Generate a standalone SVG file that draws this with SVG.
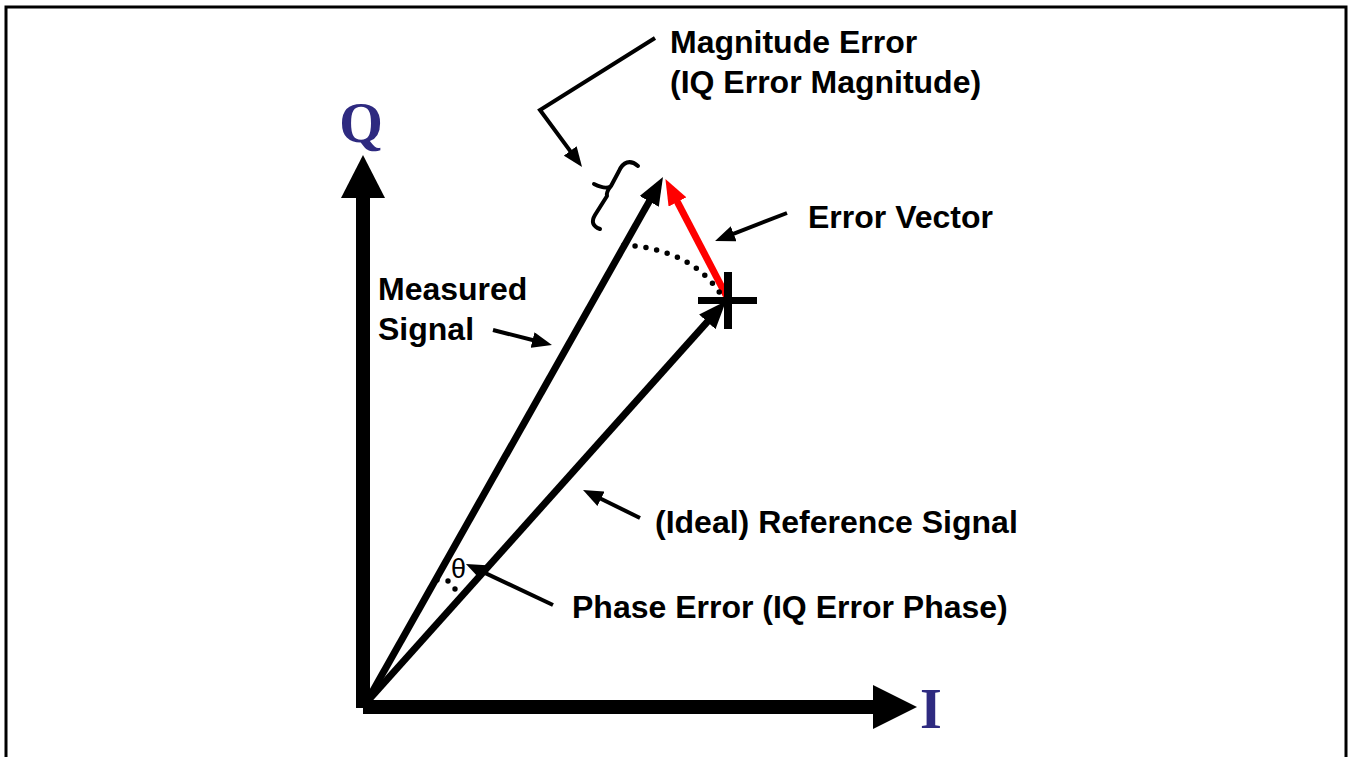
<svg xmlns="http://www.w3.org/2000/svg" width="1348" height="757" viewBox="0 0 1348 757">
<style>
.lbl{font-family:"Liberation Sans",Arial,sans-serif;font-weight:bold;font-size:32px;fill:#000}
.ax{font-family:"Liberation Serif","Times New Roman",serif;font-weight:bold;font-size:56px;fill:#2E2A80}
.ldr{stroke:#000;stroke-width:4;fill:none}
.vec{stroke-width:7;fill:none}
</style>
<defs>
<marker id="big" viewBox="0 0 28 22" refX="13" refY="11" markerWidth="28" markerHeight="22" markerUnits="userSpaceOnUse" orient="auto"><path d="M0,0 L28,11 L0,22 z" fill="#000"/></marker>
<marker id="bigred" viewBox="0 0 26 20" refX="12" refY="10" markerWidth="26" markerHeight="20" markerUnits="userSpaceOnUse" orient="auto"><path d="M0,0 L26,10 L0,20 z" fill="#FF0000"/></marker>
<marker id="small" viewBox="0 0 20 16" refX="12" refY="8" markerWidth="20" markerHeight="16" markerUnits="userSpaceOnUse" orient="auto"><path d="M0,0 L20,8 L0,16 z" fill="#000"/></marker>
</defs>
<rect x="6" y="7" width="1340" height="770" fill="none" stroke="#000" stroke-width="3"/>
<g id="axis-q">
<rect x="356" y="196" width="14" height="512" fill="#000"/>
<polygon points="363,155 341,198 385,198" fill="#000"/>
<text class="ax" x="361" y="142" text-anchor="middle">Q</text>
</g>
<g id="axis-i">
<rect x="363" y="700" width="512" height="14" fill="#000"/>
<polygon points="917,707 873,685 873,729" fill="#000"/>
<text class="ax" x="920" y="728">I</text>
</g>
<g id="connectors">
<line id="measured-vector" class="vec" stroke="#000" x1="366" y1="703" x2="655.6" y2="190.1" marker-end="url(#big)"/>
<line id="reference-vector" class="vec" stroke="#000" x1="366" y1="703" x2="716" y2="312.2" marker-end="url(#big)"/>
<line id="error-vector" class="vec" stroke="#FF0000" x1="727" y1="297" x2="671.9" y2="191.3" marker-end="url(#bigred)"/>
<path d="M624,245 Q690,249 720,293" fill="none" stroke="#000" stroke-width="5.5" stroke-linecap="round" stroke-dasharray="0 11"/>
<polyline class="ldr" points="655,38 540,110 577.3,160.6" marker-end="url(#small)"/>
<line class="ldr" x1="787" y1="213" x2="722.5" y2="238.1" marker-end="url(#small)"/>
<line class="ldr" x1="493" y1="330" x2="544.2" y2="343" marker-end="url(#small)"/>
<line class="ldr" x1="640" y1="518" x2="590.2" y2="493.5" marker-end="url(#small)"/>
<line class="ldr" x1="553" y1="605" x2="473.2" y2="567.4" marker-end="url(#small)"/>
</g>
<g id="cross">
<rect x="698" y="297" width="59" height="7" fill="#000"/>
<rect x="724" y="272" width="8" height="57" fill="#000"/>
</g>
<g id="brace">
<path d="M638,166 C630,159 623,162 619,171 L611,186 Q606,190 594,184 M611,186 Q606,192 607,196 L595,215 Q589,225 600,229" fill="none" stroke="#000" stroke-width="4" stroke-linecap="round" stroke-linejoin="round"/>
</g>
<g id="theta">
<circle cx="437" cy="580" r="2.7" fill="#000"/>
<circle cx="448" cy="581" r="2.7" fill="#000"/>
<circle cx="455" cy="589" r="2.7" fill="#000"/>
<text x="451" y="578" font-family="Liberation Sans,Arial,sans-serif" font-size="27">θ</text>
</g>
<g id="label-magnitude">
<text class="lbl" x="670" y="53">Magnitude Error</text>
<text class="lbl" x="670" y="93">(IQ Error Magnitude)</text>
</g>
<g id="label-error-vector"><text class="lbl" x="808" y="228">Error Vector</text></g>
<g id="label-measured">
<text class="lbl" x="378" y="300">Measured</text>
<text class="lbl" x="378" y="340">Signal</text>
</g>
<g id="label-reference"><text class="lbl" x="655" y="533">(Ideal) Reference Signal</text></g>
<g id="label-phase"><text class="lbl" x="572" y="618">Phase Error (IQ Error Phase)</text></g>
</svg>
